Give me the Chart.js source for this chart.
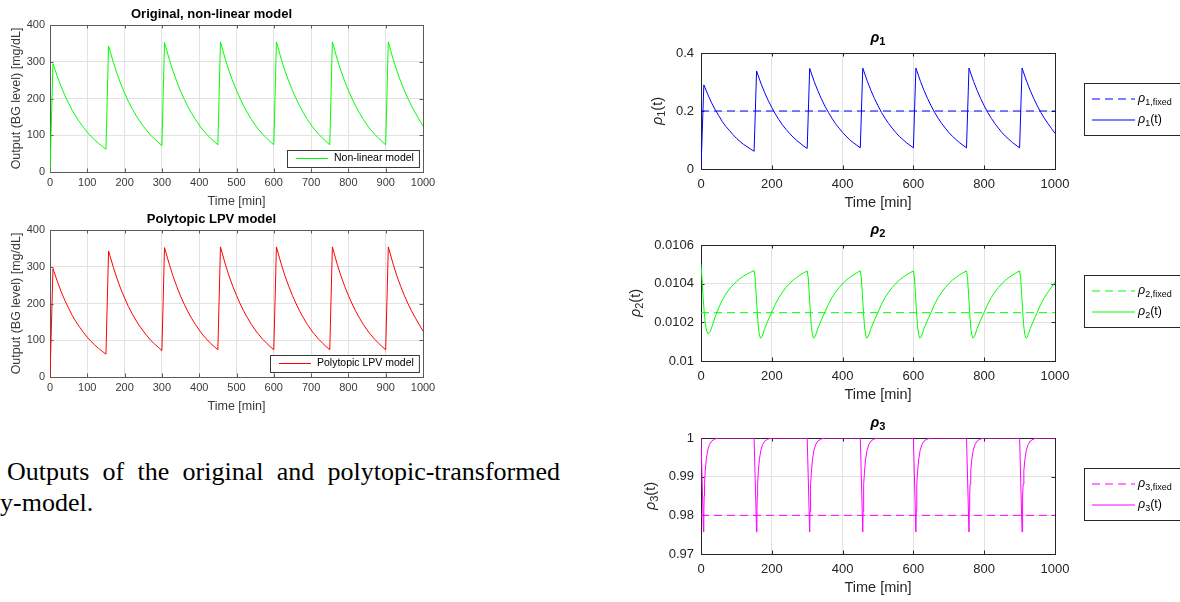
<!DOCTYPE html>
<html lang="en">
<head>
<meta charset="UTF-8">
<title>BG model outputs and scheduling parameters</title>
<script src="https://cdn.jsdelivr.net/npm/chart.js"></script>
<style>
  body { margin: 0; background: #fff; width: 1180px; height: 602px; position: relative; overflow: hidden; }
  canvas { position: absolute; }
  .cap { position: absolute; font-family: "Liberation Serif", "Times New Roman", serif; font-size: 26px; line-height: 26px; color: #000; white-space: nowrap; }
</style>
</head>
<body>
<canvas id="bgOrig" style="left:0;top:0" width="440" height="215"></canvas>
<canvas id="bgLpv" style="left:0;top:205px" width="440" height="215"></canvas>
<canvas id="rho1" style="left:620px;top:20px" width="560" height="192"></canvas>
<canvas id="rho2" style="left:620px;top:212px" width="560" height="192"></canvas>
<canvas id="rho3" style="left:620px;top:405px" width="560" height="192"></canvas>

<div class="cap" style="left:7px;top:459px;width:553px;white-space:normal;text-align:justify;text-align-last:justify">Outputs of the original and polytopic-transformed</div>
<div class="cap" style="left:0;top:490px">y-model.</div>

<script>
// ---- data ----
const outTime = [0,8,20,30,40,50,60,70,80,90,100,110,120,130,140,150,
  157,170,180,190,200,210,220,230,240,250,260,270,280,290,300,
  307,320,330,340,350,360,370,380,390,400,410,420,430,440,450,
  457,470,480,490,500,510,520,530,540,550,560,570,580,590,600,
  607,620,630,640,650,660,670,680,690,700,710,720,730,740,750,
  757,770,780,790,800,810,820,830,840,850,860,870,880,890,900,
  907,920,930,940,950,960,970,980,990,1000];

const bgNonlinear = [0,295,259,232,208,187,167,150,135,121,108,97,87,78,70,62,
  343,298,267,239,215,192,173,155,139,125,112,100,90,81,72,
  352,306,274,246,220,198,177,159,143,128,114,103,92,83,74,
  354,307,275,247,222,199,178,160,143,128,115,103,93,83,74,
  354,307,275,247,222,199,178,160,143,128,115,103,93,83,74,
  354,307,275,247,222,199,178,160,143,128,115,103,93,83,74,
  354,307,275,247,222,199,178,160,142,125];

const bgPolytopic = [0,295,259,232,208,187,167,150,135,121,108,97,87,78,70,62,
  343,298,267,239,215,192,173,155,139,125,112,100,90,81,72,
  352,306,274,246,220,198,177,159,143,128,114,103,92,83,74,
  354,307,275,247,222,199,178,160,143,128,115,103,93,83,74,
  354,307,275,247,222,199,178,160,143,128,115,103,93,83,74,
  354,307,275,247,222,199,178,160,143,128,115,103,93,83,74,
  354,307,275,247,222,199,178,160,142,125];

const rho1 = [0,0.290,0.255,0.228,0.205,0.184,0.164,0.147,0.133,0.119,0.106,0.095,0.085,0.077,0.069,0.061,
  0.338,0.293,0.263,0.236,0.212,0.190,0.170,0.152,0.137,0.123,0.110,0.099,0.089,0.079,0.071,
  0.347,0.301,0.270,0.242,0.217,0.195,0.175,0.156,0.141,0.126,0.113,0.101,0.091,0.082,0.073,
  0.348,0.302,0.271,0.243,0.218,0.195,0.175,0.157,0.141,0.126,0.113,0.102,0.091,0.082,0.073,
  0.348,0.302,0.271,0.243,0.218,0.195,0.175,0.157,0.141,0.126,0.113,0.102,0.091,0.082,0.073,
  0.348,0.302,0.271,0.243,0.218,0.195,0.175,0.157,0.141,0.126,0.113,0.102,0.091,0.082,0.073,
  0.348,0.302,0.271,0.243,0.218,0.195,0.175,0.157,0.140,0.123];

const rho2Time = [0,3,6,9,12,16,20,25,30,40,50,60,70,80,90,100,110,120,130,140,150,
  153,156,159,162,165,168,172,176,180,190,200,210,220,230,240,250,260,270,280,290,300,
  303,306,309,312,315,318,322,326,330,340,350,360,370,380,390,400,410,420,430,440,450,
  453,456,459,462,465,468,472,476,480,490,500,510,520,530,540,550,560,570,580,590,600,
  603,606,609,612,615,618,622,626,630,640,650,660,670,680,690,700,710,720,730,740,750,
  753,756,759,762,765,768,772,776,780,790,800,810,820,830,840,850,860,870,880,890,900,
  903,906,909,912,915,918,922,926,930,940,950,960,970,980,990,1000];

const rho2 = [0.010500,0.010420,0.010330,0.010255,0.010195,0.010155,0.010140,0.010148,0.010172,0.010228,0.010275,0.010314,0.010346,0.010372,0.010393,0.010411,0.010426,0.010439,0.010450,0.010459,0.010467,
  0.010430,0.010340,0.010250,0.010175,0.010135,0.010118,0.010125,0.010145,0.010168,0.010212,0.010252,0.010294,0.010328,0.010356,0.010380,0.010400,0.010418,0.010432,0.010445,0.010456,0.010466,
  0.010430,0.010340,0.010250,0.010175,0.010135,0.010118,0.010125,0.010145,0.010168,0.010212,0.010252,0.010294,0.010328,0.010356,0.010380,0.010400,0.010418,0.010432,0.010445,0.010456,0.010466,
  0.010430,0.010340,0.010250,0.010175,0.010135,0.010118,0.010125,0.010145,0.010168,0.010212,0.010252,0.010294,0.010328,0.010356,0.010380,0.010400,0.010418,0.010432,0.010445,0.010456,0.010466,
  0.010430,0.010340,0.010250,0.010175,0.010135,0.010118,0.010125,0.010145,0.010168,0.010212,0.010252,0.010294,0.010328,0.010356,0.010380,0.010400,0.010418,0.010432,0.010445,0.010456,0.010466,
  0.010430,0.010340,0.010250,0.010175,0.010135,0.010118,0.010125,0.010145,0.010168,0.010212,0.010252,0.010294,0.010328,0.010356,0.010380,0.010400,0.010418,0.010432,0.010445,0.010456,0.010466,
  0.010430,0.010340,0.010250,0.010175,0.010135,0.010118,0.010125,0.010145,0.010168,0.010212,0.010252,0.010294,0.010328,0.010356,0.010382,0.010408];

const rho3Time = [0,7,8,9,10,12,15,19,24,30,38,50,
  150,157,158,159,160,162,165,169,174,180,188,200,
  300,307,308,309,310,312,315,319,324,330,338,350,
  450,457,458,459,460,462,465,469,474,480,488,500,
  600,607,608,609,610,612,615,619,624,630,638,650,
  750,757,758,759,760,762,765,769,774,780,788,800,
  900,907,908,909,910,912,915,919,924,930,938,950,1000];

const rho3 = [1,0.9757,0.9810,0.9850,0.9880,0.9915,0.9945,0.9968,0.9983,0.9992,0.9997,1,
  1,0.9757,0.9810,0.9850,0.9880,0.9915,0.9945,0.9968,0.9983,0.9992,0.9997,1,
  1,0.9757,0.9810,0.9850,0.9880,0.9915,0.9945,0.9968,0.9983,0.9992,0.9997,1,
  1,0.9757,0.9810,0.9850,0.9880,0.9915,0.9945,0.9968,0.9983,0.9992,0.9997,1,
  1,0.9757,0.9810,0.9850,0.9880,0.9915,0.9945,0.9968,0.9983,0.9992,0.9997,1,
  1,0.9757,0.9810,0.9850,0.9880,0.9915,0.9945,0.9968,0.9983,0.9992,0.9997,1,
  1,0.9757,0.9810,0.9850,0.9880,0.9915,0.9945,0.9968,0.9983,0.9992,0.9997,1,1];

const fixedTime = [0, 1000];
const rho1Fixed = [0.2, 0.2];
const rho2Fixed = [0.01025, 0.01025];
const rho3Fixed = [0.98, 0.98];

const leftXTicks = [0,100,200,300,400,500,600,700,800,900,1000];
const leftXLabels = ['0','100','200','300','400','500','600','700','800','900','1000'];
const bgYTicks = [0,100,200,300,400];
const bgYLabels = ['0','100','200','300','400'];
const rightXTicks = [0,200,400,600,800,1000];
const rightXLabels = ['0','200','400','600','800','1000'];
const rho1YTicks = [0,0.2,0.4];
const rho1YLabels = ['0','0.2','0.4'];
const rho2YTicks = [0.01,0.0102,0.0104,0.0106];
const rho2YLabels = ['0.01','0.0102','0.0104','0.0106'];
const rho3YTicks = [0.97,0.98,0.99,1];
const rho3YLabels = ['0.97','0.98','0.99','1'];

const FONT = '"Liberation Sans", Arial, Helvetica, sans-serif';
const GRID = '#e2e2e2';

function pts(xs, ys) { return xs.map((x, i) => ({x: x, y: ys[i]})); }

// 'ρ_{1,fixed}' -> runs, ρ in italic, _{..} as subscript
function runs(str) {
  const out = [];
  const re = /_\{([^}]*)\}/g;
  let last = 0, m;
  const plain = s => s.split(/(ρ)/).filter(Boolean).forEach(t => out.push({t: t, sub: false, it: t === 'ρ'}));
  while ((m = re.exec(str))) {
    if (m.index > last) plain(str.slice(last, m.index));
    out.push({t: m[1], sub: true, it: false});
    last = re.lastIndex;
  }
  if (last < str.length) plain(str.slice(last));
  return out;
}

function richText(ctx, str, x, y, f, draw) {
  let w = 0;
  runs(str).forEach(r => {
    const size = r.sub ? f.sub : f.size;
    ctx.font = (r.it ? 'italic ' : '') + (f.weight || 'normal') + ' ' + size + 'px ' + FONT;
    if (draw) ctx.fillText(r.t, x + w, y + (r.sub ? f.drop : 0));
    w += ctx.measureText(r.t).width;
  });
  return w;
}

// MATLAB-like closed box with inward tick marks
const frame = {
  id: 'frame',
  beforeDatasetsDraw(chart, args, o) {
    const {ctx, chartArea: a, scales: {x, y}} = chart;
    ctx.save();
    ctx.strokeStyle = o.color;
    ctx.lineWidth = 1;
    ctx.beginPath();
    x.ticks.forEach(t => {
      const px = Math.round(x.getPixelForValue(t.value)) + 0.5;
      ctx.moveTo(px, a.bottom); ctx.lineTo(px, a.bottom - o.tick);
      ctx.moveTo(px, a.top); ctx.lineTo(px, a.top + o.tick);
    });
    y.ticks.forEach(t => {
      const py = Math.round(y.getPixelForValue(t.value)) + 0.5;
      ctx.moveTo(a.left, py); ctx.lineTo(a.left + o.tick, py);
      ctx.moveTo(a.right, py); ctx.lineTo(a.right - o.tick, py);
    });
    ctx.stroke();
    ctx.strokeRect(Math.round(a.left) + 0.5, Math.round(a.top) + 0.5, Math.round(a.width), Math.round(a.height));
    ctx.restore();
  }
};

// boxed legend with sample lines, supports subscripts
const boxLegend = {
  id: 'boxLegend',
  afterDatasetsDraw(chart, args, o) {
    if (!o.items) return;
    const ctx = chart.ctx, a = chart.chartArea;
    const f = {size: o.size, sub: o.sub, drop: o.drop};
    ctx.save();
    let w = o.width;
    if (!w) {
      let tw = 0;
      o.items.forEach(it => { tw = Math.max(tw, richText(ctx, it.label, 0, 0, f, false)); });
      w = o.textAt + tw + o.padRight;
    }
    const left = o.corner ? Math.round(a.right - o.inset[0] - w) : o.left;
    const top = o.corner ? Math.round(a.bottom - o.inset[1] - o.height) : o.top;
    ctx.fillStyle = '#fff';
    ctx.fillRect(left, top, w, o.height);
    ctx.strokeStyle = o.border;
    ctx.lineWidth = 1;
    ctx.strokeRect(left + 0.5, top + 0.5, w, o.height);
    o.items.forEach((it, i) => {
      const ds = chart.data.datasets[it.ds];
      const yy = top + o.rows[i];
      ctx.strokeStyle = ds.borderColor;
      ctx.lineWidth = ds.borderWidth;
      ctx.setLineDash(ds.borderDash || []);
      ctx.beginPath();
      ctx.moveTo(left + o.lineFrom, yy);
      ctx.lineTo(left + o.lineTo, yy);
      ctx.stroke();
      ctx.setLineDash([]);
      ctx.fillStyle = o.color;
      ctx.textBaseline = 'middle';
      richText(ctx, it.label, left + o.textAt, yy, f, true);
    });
    ctx.restore();
  }
};

// title and y label drawn with greek + subscripts
const richLabels = {
  id: 'richLabels',
  afterDraw(chart, args, o) {
    if (!o.title) return;
    const ctx = chart.ctx, a = chart.chartArea;
    ctx.save();
    ctx.fillStyle = '#000';
    ctx.textBaseline = 'middle';
    const tf = {size: o.titleSize, sub: o.titleSub, drop: 4, weight: 'bold'};
    const tw = richText(ctx, o.title, 0, 0, tf, false);
    richText(ctx, o.title, (a.left + a.right) / 2 - tw / 2, o.titleY, tf, true);
    const yf = {size: o.ySize, sub: o.ySub, drop: 4};
    const yw = richText(ctx, o.yTitle, 0, 0, yf, false);
    ctx.fillStyle = '#262626';
    ctx.translate(o.yTitleX, (a.top + a.bottom) / 2);
    ctx.rotate(-Math.PI / 2);
    richText(ctx, o.yTitle, -yw / 2, 0, yf, true);
    ctx.restore();
  }
};

function axisTicks(list) {
  return s => { s.ticks = list.map(v => ({value: v})); };
}

function leftChart(id, title, values, color, label) {
  return new Chart(document.getElementById(id), {
    type: 'line',
    data: {
      datasets: [{
        label: label,
        data: pts(outTime, values),
        borderColor: color,
        borderWidth: 1,
        pointRadius: 0,
        tension: 0
      }]
    },
    options: {
      responsive: false,
      animation: false,
      events: [],
      layout: {padding: {left: 0, right: 17, top: 0, bottom: 0}},
      plugins: {
        legend: {display: false},
        tooltip: {enabled: false},
        title: {
          display: true, text: title, color: '#000',
          font: {family: FONT, size: 13, weight: 'bold', lineHeight: 1.2},
          padding: {top: 6.7, bottom: 2.7}
        },
        frame: {color: '#5a5a5a', tick: 3.5},
        boxLegend: {
          items: [{ds: 0, label: label}],
          corner: true, inset: [4, 5], height: 17, rows: [8.5],
          lineFrom: 9, lineTo: 41, textAt: 47, padRight: 5,
          size: 10.5, sub: 8, drop: 3, color: '#000', border: '#3a3a3a'
        }
      },
      scales: {
        x: {
          type: 'linear', min: 0, max: 1000,
          afterBuildTicks: axisTicks(leftXTicks),
          afterFit: s => { s.height = 43; },
          grid: {color: GRID, drawTicks: false},
          border: {display: false},
          ticks: {
            color: '#3a3a3a', font: {family: FONT, size: 11}, padding: 4,
            maxRotation: 0, autoSkip: false,
            callback: (v, i) => leftXLabels[i]
          },
          title: {
            display: true, text: 'Time [min]', color: '#3a3a3a',
            font: {family: FONT, size: 12.5, lineHeight: 1.2},
            padding: {top: 0, bottom: 5.8}
          }
        },
        y: {
          min: 0, max: 400,
          afterBuildTicks: axisTicks(bgYTicks),
          afterFit: s => { s.width = 50; },
          grid: {color: GRID, drawTicks: false},
          border: {display: false},
          ticks: {
            color: '#3a3a3a', font: {family: FONT, size: 11}, padding: 5,
            autoSkip: false,
            callback: (v, i) => bgYLabels[i]
          },
          title: {
            display: true, text: 'Output (BG level) [mg/dL]', color: '#3a3a3a',
            font: {family: FONT, size: 12.5, lineHeight: 1.2},
            padding: {top: 9, bottom: 0}
          }
        }
      }
    },
    plugins: [frame, boxLegend]
  });
}

function rightChart(id, n, time, values, fixed, color, yMin, yMax, yTicks, yLabels, yTitleX) {
  return new Chart(document.getElementById(id), {
    type: 'line',
    data: {
      datasets: [{
        label: 'rho' + n + ' fixed',
        data: pts(fixedTime, fixed),
        borderColor: color,
        borderWidth: 1,
        borderDash: [8, 5],
        pointRadius: 0
      }, {
        label: 'rho' + n + '(t)',
        data: pts(time, values),
        borderColor: color,
        borderWidth: 1,
        pointRadius: 0,
        tension: 0
      }]
    },
    options: {
      responsive: false,
      animation: false,
      events: [],
      layout: {padding: {left: 0, right: 125, top: 33, bottom: 0}},
      plugins: {
        legend: {display: false},
        tooltip: {enabled: false},
        frame: {color: '#262626', tick: 3.5},
        richLabels: {
          title: 'ρ_{' + n + '}', titleY: 18, titleSize: 14.5, titleSub: 11,
          yTitle: 'ρ_{' + n + '}(t)', yTitleX: yTitleX, ySize: 14.5, ySub: 11
        },
        boxLegend: {
          items: [{ds: 0, label: 'ρ_{' + n + ',fixed}'}, {ds: 1, label: 'ρ_{' + n + '}(t)'}],
          left: 464, top: 63, width: 130, height: 52, rows: [16, 37],
          lineFrom: 8, lineTo: 51, textAt: 54,
          size: 12.5, sub: 9, drop: 4, color: '#000', border: '#262626'
        }
      },
      scales: {
        x: {
          type: 'linear', min: 0, max: 1000,
          afterBuildTicks: axisTicks(rightXTicks),
          afterFit: s => { s.height = 43; },
          grid: {color: GRID, drawTicks: false},
          border: {display: false},
          ticks: {
            color: '#262626', font: {family: FONT, size: 13}, padding: 8,
            maxRotation: 0, autoSkip: false,
            callback: (v, i) => rightXLabels[i]
          },
          title: {
            display: true, text: 'Time [min]', color: '#262626',
            font: {family: FONT, size: 14.5, lineHeight: 1.2},
            padding: {top: 0, bottom: 0}
          }
        },
        y: {
          min: yMin, max: yMax,
          afterBuildTicks: axisTicks(yTicks),
          afterFit: s => { s.width = 81; },
          grid: {color: GRID, drawTicks: false},
          border: {display: false},
          ticks: {
            color: '#262626', font: {family: FONT, size: 13}, padding: 7,
            autoSkip: false,
            callback: (v, i) => yLabels[i]
          }
        }
      }
    },
    plugins: [frame, richLabels, boxLegend]
  });
}

leftChart('bgOrig', 'Original, non-linear model', bgNonlinear, '#00ff00', 'Non-linear model');
leftChart('bgLpv', 'Polytopic LPV model', bgPolytopic, '#ff0000', 'Polytopic LPV model');
rightChart('rho1', 1, outTime, rho1, rho1Fixed, '#0000ff', 0, 0.4, rho1YTicks, rho1YLabels, 38);
rightChart('rho2', 2, rho2Time, rho2, rho2Fixed, '#00ff00', 0.01, 0.0106, rho2YTicks, rho2YLabels, 16);
rightChart('rho3', 3, rho3Time, rho3, rho3Fixed, '#ff00ff', 0.97, 1, rho3YTicks, rho3YLabels, 31);
</script>
</body>
</html>
